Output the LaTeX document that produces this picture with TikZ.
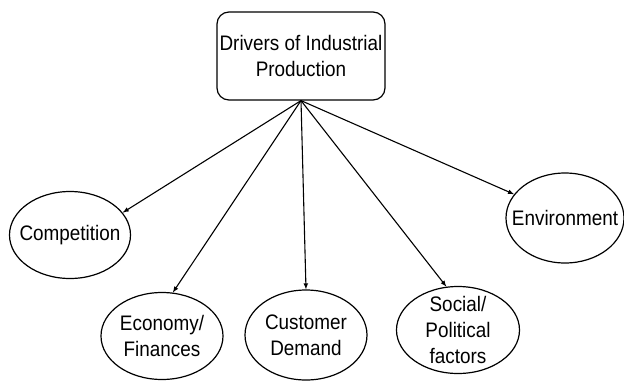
\documentclass[tikz,border=0pt]{standalone}
\usepackage{fontspec}
\setmainfont{Liberation Sans}[FakeStretch=0.9]
\usepackage{tikz}
\usetikzlibrary{shapes.geometric}

\begin{document}
\begin{tikzpicture}[x=1pt,y=-1pt,font=\fontsize{21}{26}\selectfont,
  oval/.style={ellipse,draw,line width=1.2pt,minimum width=121pt,minimum height=87pt,inner sep=0pt},
  arr/.style={-latex,line width=1.1pt}]
\useasboundingbox (0,0) rectangle (624,381);
\node[draw,rounded corners=12pt,line width=1.2pt,minimum width=168pt,minimum height=88pt,inner sep=2pt,align=center] (top) at (301,56) {Drivers of Industrial\\Production};
\node[oval,label={center:Competition}] (comp) at (70,235) {};
\node[oval,minimum width=122pt,label={[align=center]center:Economy/\\Finances}] (econ) at (162,336) {};
\node[oval,minimum width=122pt,minimum height=90pt,label={[align=center]center:Customer\\Demand}] (cust) at (306,335) {};
\node[oval,minimum width=123pt,label={[align=center]center:Social/\\Political\\factors}] (soc) at (458,330) {};
\node[oval,minimum width=118pt,minimum height=90pt,label={center:Environment}] (env) at (565,218) {};
\draw[arr] (top.south) -- (comp.23);
\draw[arr] (top.south) -- (econ.76);
\draw[arr] (top.south) -- (cust.north);
\draw[arr] (top.south) -- (soc.105);
\draw[arr] (top.south) -- (env.155);
\end{tikzpicture}
\end{document}
